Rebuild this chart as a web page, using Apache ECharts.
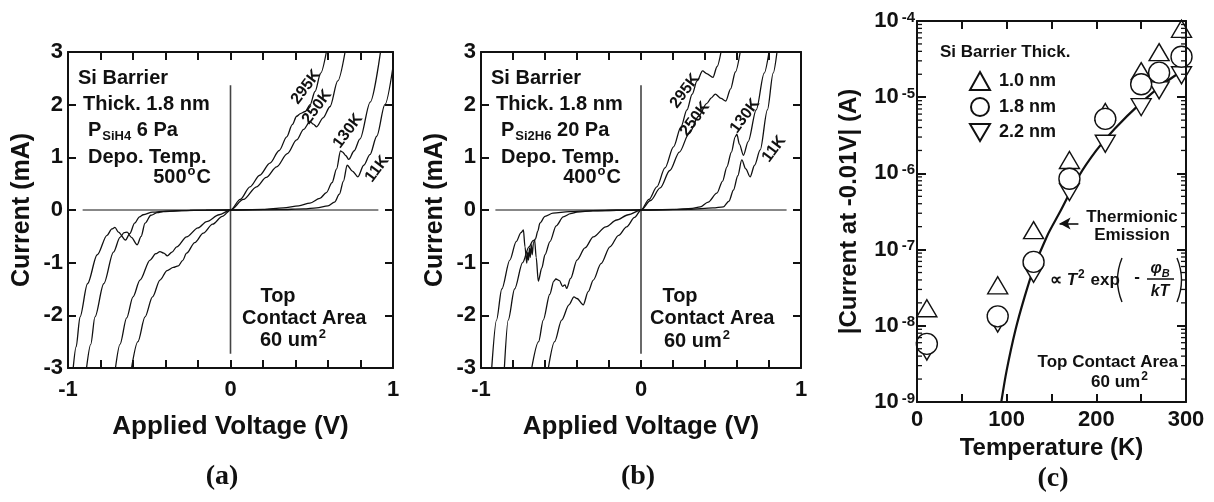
<!DOCTYPE html>
<html>
<head>
<meta charset="utf-8">
<script src="https://cdn.jsdelivr.net/npm/echarts@6.0.0/dist/echarts.min.js"></script>
<style>
html, body { margin: 0; padding: 0; background: #fff; }
#chart { width: 1214px; height: 502px; }
</style>
</head>
<body>
<div id="chart"></div>
<script>
var FONT = '"Liberation Sans", Arial, sans-serif';
var SERIF = '"Liberation Serif", "Times New Roman", serif';
var INK = '#111';

// (a) SiH4 barrier, points are [voltage (V), current (mA)]
var ivA295 = [[-0.609,-3.0],[-0.57,-2.5],[-0.526,-2.03],[-0.48,-1.65],[-0.434,-1.33],[-0.39,-1.15],[-0.352,-1.09],[-0.321,-1.06],[-0.295,-0.96],[-0.27,-0.82],[-0.22,-0.62],[-0.167,-0.44],[-0.11,-0.27],[-0.05,-0.12],[0,0],
  [0.06,0.2],[0.12,0.44],[0.18,0.66],[0.243,0.89],[0.3,1.13],[0.346,1.39],[0.38,1.62],[0.407,1.78],[0.43,1.83],[0.46,1.87],[0.49,2.0],[0.52,2.25],[0.555,2.6],[0.59,3.0]];
var ivA250 = [[-0.708,-3.0],[-0.68,-2.55],[-0.639,-2.05],[-0.6,-1.65],[-0.557,-1.33],[-0.495,-0.95],[-0.46,-0.83],[-0.434,-0.79],[-0.41,-0.82],[-0.389,-0.87],[-0.36,-0.8],[-0.331,-0.7],[-0.27,-0.51],[-0.2,-0.34],[-0.147,-0.22],[-0.07,-0.09],[0,0],
  [0.08,0.2],[0.16,0.44],[0.22,0.62],[0.284,0.82],[0.35,1.07],[0.407,1.33],[0.45,1.53],[0.489,1.68],[0.51,1.63],[0.53,1.58],[0.57,1.75],[0.612,1.96],[0.66,2.45],[0.705,3.0]];
var ivA130 = [[-0.886,-3.0],[-0.86,-2.55],[-0.834,-2.03],[-0.78,-1.4],[-0.72,-0.8],[-0.68,-0.52],[-0.655,-0.43],[-0.636,-0.42],[-0.61,-0.52],[-0.574,-0.66],[-0.55,-0.5],[-0.526,-0.25],[-0.49,-0.1],[-0.45,-0.05],[-0.413,-0.03],[-0.3,-0.012],[-0.15,-0.004],[0,0],
  [0.2,0.01],[0.325,0.04],[0.42,0.08],[0.489,0.13],[0.55,0.22],[0.59,0.33],[0.625,0.52],[0.653,0.78],[0.677,1.12],[0.69,1.1],[0.71,1.03],[0.728,0.96],[0.76,1.12],[0.797,1.35],[0.86,2.05],[0.923,3.0]];
var ivA11 = [[-0.968,-3.0],[-0.95,-2.6],[-0.926,-2.03],[-0.88,-1.4],[-0.82,-0.85],[-0.76,-0.48],[-0.73,-0.36],[-0.711,-0.33],[-0.69,-0.42],[-0.646,-0.57],[-0.62,-0.45],[-0.59,-0.25],[-0.56,-0.13],[-0.537,-0.09],[-0.48,-0.04],[-0.4,-0.02],[-0.25,-0.008],[0,0],
  [0.3,0.008],[0.45,0.02],[0.53,0.04],[0.6,0.08],[0.64,0.15],[0.67,0.3],[0.695,0.55],[0.718,0.85],[0.75,0.74],[0.784,0.63],[0.82,0.85],[0.858,1.05],[0.9,1.4],[0.95,2.0],[1.0,2.72]];

// (b) Si2H6 barrier
var ivB295 = [[-0.579,-3.0],[-0.54,-2.5],[-0.496,-2.09],[-0.45,-1.8],[-0.419,-1.65],[-0.4,-1.68],[-0.361,-1.8],[-0.33,-1.55],[-0.298,-1.33],[-0.25,-1.02],[-0.194,-0.7],[-0.14,-0.48],[-0.09,-0.32],[-0.04,-0.14],[0,0],
  [0.05,0.2],[0.099,0.44],[0.15,0.8],[0.203,1.2],[0.25,1.58],[0.287,1.9],[0.32,2.2],[0.35,2.45],[0.385,2.64],[0.41,2.59],[0.45,2.52],[0.475,2.72],[0.5,3.0]];
var ivB250 = [[-0.683,-3.0],[-0.64,-2.5],[-0.611,-2.09],[-0.57,-1.6],[-0.545,-1.35],[-0.532,-1.31],[-0.51,-1.34],[-0.49,-1.45],[-0.475,-1.42],[-0.465,-1.49],[-0.44,-1.3],[-0.4,-0.95],[-0.35,-0.72],[-0.298,-0.51],[-0.22,-0.32],[-0.152,-0.19],[-0.08,-0.09],[0,0],
  [0.06,0.18],[0.12,0.42],[0.18,0.75],[0.24,1.1],[0.3,1.45],[0.36,1.78],[0.41,2.02],[0.44,2.13],[0.464,2.2],[0.5,2.12],[0.53,2.07],[0.56,2.3],[0.59,2.62],[0.62,3.0]];
var ivB130 = [[-0.854,-3.0],[-0.83,-2.09],[-0.79,-1.5],[-0.74,-1.0],[-0.7,-0.7],[-0.675,-0.58],[-0.665,-0.57],[-0.655,-0.9],[-0.642,-1.35],[-0.62,-1.1],[-0.6,-0.85],[-0.569,-0.6],[-0.53,-0.3],[-0.486,-0.13],[-0.44,-0.07],[-0.4,-0.04],[-0.3,-0.015],[-0.15,-0.005],[0,0],
  [0.2,0.01],[0.32,0.03],[0.37,0.06],[0.42,0.15],[0.474,0.32],[0.51,0.55],[0.537,0.82],[0.565,1.1],[0.589,1.39],[0.599,1.44],[0.615,1.25],[0.64,1.04],[0.67,1.3],[0.72,1.9],[0.77,2.6],[0.8,3.0]];
var ivB11 = [[-0.933,-3.0],[-0.903,-2.09],[-0.87,-1.5],[-0.82,-0.95],[-0.78,-0.6],[-0.75,-0.43],[-0.735,-0.38],[-0.725,-0.7],[-0.714,-1.01],[-0.708,-0.8],[-0.703,-0.95],[-0.697,-0.72],[-0.692,-0.9],[-0.686,-0.66],[-0.68,-0.85],[-0.672,-0.62],[-0.66,-0.55],[-0.645,-0.4],[-0.632,-0.25],[-0.6,-0.12],[-0.55,-0.06],[-0.45,-0.03],[-0.3,-0.01],[0,0],
  [0.3,0.01],[0.45,0.04],[0.515,0.06],[0.55,0.17],[0.578,0.38],[0.605,0.65],[0.63,0.95],[0.655,0.78],[0.682,0.63],[0.71,0.85],[0.745,1.14],[0.79,1.9],[0.826,2.6],[0.85,3.0]];

// thin zero guides drawn in (a) and (b)
var guideH = [[-0.91, 0], [0.91, 0]];
var guideV = [[0, -2.73], [0, 2.37]];

// (c) current at -0.01 V vs temperature
var tempK = [11, 90, 130, 170, 210, 250, 270, 295];
var cur10nm = [1.7e-8, 3.4e-8, 1.8e-7, 1.5e-6, 6.4e-6, 2.2e-5, 3.9e-5, 7.9e-5];
var cur18nm = [5.8e-9, 1.33e-8, 6.9e-8, 8.5e-7, 5.2e-6, 1.48e-5, 2.1e-5, 3.4e-5];
var cur22nm = [4.6e-9, 1.07e-8, 4.8e-8, 5.7e-7, 2.45e-6, 7.4e-6, 1.23e-5, 1.94e-5];
var teTemp = [94, 100, 110, 120, 130, 145, 160, 180, 200, 220, 250, 275, 300];
var teCur = [1e-9, 2.6e-9, 9e-9, 2.4e-8, 5.6e-8, 1.5e-7, 3.2e-7, 9e-7, 2e-6, 3.8e-6, 8.5e-6, 1.5e-5, 2.4e-5];

var curveLabels = ['295K', '250K', '130K', '11K'];

// minor ticks of the log axis (2..9 per decade)
var logMinor = [];
for (var n = -9; n < -4; n++) {
  for (var k = 2; k < 10; k++) logMinor.push(k * Math.pow(10, n));
}

function pairs(xs, ys) {
  return xs.map(function (x, i) { return [x, ys[i]]; });
}

function intOnly(v) {
  return Math.abs(v - Math.round(v)) < 1e-6 ? String(Math.round(v)) : '';
}

function mkAxis(gi, pos, o, labelled) {
  var ax = {
    gridIndex: gi,
    position: pos,
    type: o.type || 'value',
    min: o.min,
    max: o.max,
    interval: o.interval,
    logBase: 10,
    z: 10,
    axisLine: { show: true, onZero: false, lineStyle: { color: INK, width: 2 } },
    axisTick: { show: true, inside: true, length: o.tick || 8, lineStyle: { color: INK, width: 2 } },
    splitLine: { show: false },
    axisLabel: { show: false }
  };
  if (labelled) {
    ax.axisLabel = {
      show: true, color: INK, fontFamily: FONT, fontWeight: 'bold',
      fontSize: o.fontSize || 22, margin: o.margin, formatter: o.formatter, rich: o.rich
    };
    ax.name = o.name;
    ax.nameLocation = 'middle';
    ax.nameGap = o.nameGap;
    ax.nameTextStyle = { fontFamily: FONT, fontWeight: 'bold', fontSize: o.nameSize || 24, color: INK };
  }
  return ax;
}

var vAxis = { min: -1, max: 1, interval: 0.2, formatter: intOnly, margin: 11, name: 'Applied Voltage (V)', nameGap: 46, nameSize: 26 };
var iAxis = { min: -3, max: 3, interval: 1, margin: 5, name: 'Current (mA)', nameGap: 33, nameSize: 25 };
var tAxis = { min: 0, max: 300, interval: 50, fontSize: 22, margin: 7, name: 'Temperature (K)', nameGap: 34,
  formatter: function (v) { return v % 100 === 0 ? String(v) : ''; } };
var logAxis = { type: 'log', min: 1e-9, max: 1e-4, margin: 2, tick: 9, name: '|Current at -0.01V| (A)', nameGap: 56,
  formatter: function (v) { return '{b|10}{s|' + Math.round(Math.log10(v)) + '}'; },
  rich: {
    b: { fontSize: 22, fontWeight: 'bold', fontFamily: FONT, color: INK, verticalAlign: 'top' },
    s: { fontSize: 15, fontWeight: 'bold', fontFamily: FONT, color: INK, verticalAlign: 'top', padding: [0, 0, 0, 3] }
  } };

function ivSeries(data, xi) {
  return {
    type: 'line', xAxisIndex: xi, yAxisIndex: xi, data: data,
    showSymbol: false, symbol: 'none', smooth: 0.3, smoothMonotone: 'x',
    lineStyle: { color: INK, width: 1.3 }, silent: true, z: 3
  };
}

function guide(data, xi, color, width) {
  return {
    type: 'line', xAxisIndex: xi, yAxisIndex: xi, data: data, showSymbol: false, symbol: 'none',
    lineStyle: { color: color, width: width }, silent: true, z: 2
  };
}

function marker(name, data, symbol, size, z) {
  return {
    name: name, type: 'scatter', xAxisIndex: 4, yAxisIndex: 4, data: data,
    symbol: symbol, symbolSize: size, z: z,
    itemStyle: { color: '#fff', borderColor: INK, borderWidth: 1.4, opacity: 1 }
  };
}

// text annotations
function f(size, style) { return (style || '') + ' bold ' + size + 'px ' + FONT; }
var TXT = f(20);
var TXT_S = f(17);
var richAnno = {
  m: { font: f(20), fill: INK, verticalAlign: 'top', padding: [3, 0, 0, 0] },
  sub: { font: f(13), fill: INK, verticalAlign: 'top', padding: [12, 0, 0, 1] },
  sup: { font: f(13), fill: INK, verticalAlign: 'top', padding: [0, 1, 0, 1] }
};
var richSmall = {
  m: { font: f(17), fill: INK, verticalAlign: 'top', padding: [3, 0, 0, 0] },
  it: { font: f(17, 'italic'), fill: INK, verticalAlign: 'top', padding: [3, 0, 0, 0] },
  sup: { font: f(12), fill: INK, verticalAlign: 'top', padding: [0, 1, 0, 1] },
  phi: { font: f(16, 'italic'), fill: INK, verticalAlign: 'top', padding: [2, 0, 0, 0] },
  sb: { font: f(11, 'italic'), fill: INK, verticalAlign: 'top', padding: [10, 0, 0, 0] }
};

function label(x, y, text, o) {
  o = o || {};
  var align = o.align || 'left';
  return {
    type: 'text', x: x, y: y, rotation: o.rot || 0, z: 100, silent: true,
    style: {
      text: text, fill: INK, font: o.font || TXT,
      align: align, textAlign: align, verticalAlign: 'middle', textVerticalAlign: 'middle',
      rich: o.rich
    }
  };
}

function paren(x, y0, y1, bulge) {
  return {
    type: 'bezierCurve', z: 100, silent: true,
    shape: { x1: x, y1: y0, x2: x, y2: y1, cpx1: x - bulge, cpy1: (y0 + y1) / 2 },
    style: { stroke: INK, lineWidth: 1.4, fill: null }
  };
}

var ROT = 53 * Math.PI / 180;
var FK = f(16);

var graphics = [
  // (a)
  label(78, 78, 'Si Barrier'),
  label(83, 104, 'Thick. 1.8 nm'),
  label(88, 130, '{m|P}{sub|SiH4}{m| 6 Pa}', { rich: richAnno }),
  label(88, 157, 'Depo. Temp.'),
  label(211, 176, '{m|500}{sup|o}{m|C}', { rich: richAnno, align: 'right' }),
  label(278, 296, 'Top', { align: 'center' }),
  label(242, 318, 'Contact Area'),
  label(260, 339, '{m|60 um}{sup|2}', { rich: richAnno }),
  label(306, 87, curveLabels[0], { rot: ROT, font: FK, align: 'center' }),
  label(317, 107, curveLabels[1], { rot: ROT, font: FK, align: 'center' }),
  label(348, 131, curveLabels[2], { rot: ROT, font: FK, align: 'center' }),
  label(377, 169, curveLabels[3], { rot: ROT, font: FK, align: 'center' }),
  // (b)
  label(491, 78, 'Si Barrier'),
  label(496, 104, 'Thick. 1.8 nm'),
  label(501, 130, '{m|P}{sub|Si2H6}{m| 20 Pa}', { rich: richAnno }),
  label(501, 157, 'Depo. Temp.'),
  label(621, 176, '{m|400}{sup|o}{m|C}', { rich: richAnno, align: 'right' }),
  label(680, 296, 'Top', { align: 'center' }),
  label(650, 318, 'Contact Area'),
  label(664, 340, '{m|60 um}{sup|2}', { rich: richAnno }),
  label(685, 91, curveLabels[0], { rot: ROT, font: FK, align: 'center' }),
  label(695, 119, curveLabels[1], { rot: ROT, font: FK, align: 'center' }),
  label(745, 116, curveLabels[2], { rot: ROT, font: FK, align: 'center' }),
  label(774, 149, curveLabels[3], { rot: ROT, font: FK, align: 'center' }),
  // (c)
  label(940, 52, 'Si Barrier Thick.', { font: TXT_S }),
  label(1132, 217, 'Thermionic', { font: TXT_S, align: 'center' }),
  label(1132, 235, 'Emission', { font: TXT_S, align: 'center' }),
  label(1050, 279, '{m|\u221D }{it|T}{sup|2}{m| exp}', { rich: richSmall }),
  paren(1122, 258, 302, 9),
  paren(1177, 258, 302, -9),
  label(1137, 277, '-', { font: TXT_S, align: 'center' }),
  label(1160, 269, '{phi|\u03C6}{sb|B}', { rich: richSmall, align: 'center' }),
  { type: 'line', z: 100, silent: true, shape: { x1: 1147, y1: 279, x2: 1174, y2: 279 }, style: { stroke: INK, lineWidth: 1.5 } },
  label(1160, 292, 'kT', { font: f(16, 'italic'), align: 'center' }),
  label(1178, 362, 'Top Contact Area', { font: TXT_S, align: 'right' }),
  label(1120, 381, '{m|60 um}{sup|2}', { rich: richSmall, align: 'center' }),
  // captions
  label(222, 477, '(a)', { font: 'bold 28px ' + SERIF, align: 'center' }),
  label(638, 477, '(b)', { font: 'bold 28px ' + SERIF, align: 'center' }),
  label(1053, 479, '(c)', { font: 'bold 28px ' + SERIF, align: 'center' })
];

var option = {
  animation: false,
  backgroundColor: '#fff',
  grid: [
    { left: 68, top: 52, width: 325, height: 316 },
    { left: 481, top: 52, width: 320, height: 316 },
    { left: 917, top: 21, width: 269, height: 381 }
  ],
  xAxis: [
    mkAxis(0, 'bottom', vAxis, true), mkAxis(0, 'top', vAxis, false),
    mkAxis(1, 'bottom', vAxis, true), mkAxis(1, 'top', vAxis, false),
    mkAxis(2, 'bottom', tAxis, true), mkAxis(2, 'top', tAxis, false)
  ],
  yAxis: [
    mkAxis(0, 'left', iAxis, true), mkAxis(0, 'right', iAxis, false),
    mkAxis(1, 'left', iAxis, true), mkAxis(1, 'right', iAxis, false),
    mkAxis(2, 'left', logAxis, true), mkAxis(2, 'right', logAxis, false)
  ],
  legend: {
    left: 964, top: 66, orient: 'vertical', itemGap: 6, itemWidth: 20, itemHeight: 18,
    selectedMode: false,
    textStyle: { fontFamily: FONT, fontWeight: 'bold', fontSize: 18, color: INK, padding: [0, 0, 0, 4] },
    data: ['1.0 nm', '1.8 nm', '2.2 nm']
  },
  graphic: graphics,
  series: [
    guide(guideH, 0, INK, 1), guide(guideV, 0, '#444', 1.6),
    ivSeries(ivA295, 0), ivSeries(ivA250, 0), ivSeries(ivA130, 0), ivSeries(ivA11, 0),
    guide(guideH, 2, INK, 1), guide(guideV, 2, '#444', 1.6),
    ivSeries(ivB295, 2), ivSeries(ivB250, 2), ivSeries(ivB130, 2), ivSeries(ivB11, 2),
    {
      type: 'line', xAxisIndex: 4, yAxisIndex: 4, data: pairs(teTemp, teCur),
      showSymbol: false, symbol: 'none', smooth: 0.3, silent: true, z: 3,
      lineStyle: { color: INK, width: 2.2 },
      markLine: {
        silent: true, symbol: ['none', 'arrow'], symbolSize: [9, 11],
        lineStyle: { color: INK, width: 1.6, type: 'solid' }, label: { show: false },
        data: [[{ coord: [180, 2.2e-7] }, { coord: [159, 2.2e-7] }]]
      }
    },
    marker('1.0 nm', pairs(tempK, cur10nm), 'triangle', [20, 17], 4),
    marker('2.2 nm', pairs(tempK, cur22nm), 'path://M0,0L20,0L10,17Z', [20, 17], 5),
    marker('1.8 nm', pairs(tempK, cur18nm), 'circle', 21, 6),
    {
      type: 'custom', xAxisIndex: 4, yAxisIndex: 4, silent: true, z: 8,
      data: logMinor.map(function (v) { return [0, v]; }),
      renderItem: function (params, api) {
        var y = api.coord([0, api.value(1)])[1];
        var cs = params.coordSys;
        var st = { stroke: INK, lineWidth: 1.3 };
        return {
          type: 'group', children: [
            { type: 'line', shape: { x1: cs.x, y1: y, x2: cs.x + 5, y2: y }, style: st },
            { type: 'line', shape: { x1: cs.x + cs.width - 5, y1: y, x2: cs.x + cs.width, y2: y }, style: st }
          ]
        };
      }
    }
  ]
};

var chart = echarts.init(document.getElementById('chart'));
chart.setOption(option);
</script>
</body>
</html>
